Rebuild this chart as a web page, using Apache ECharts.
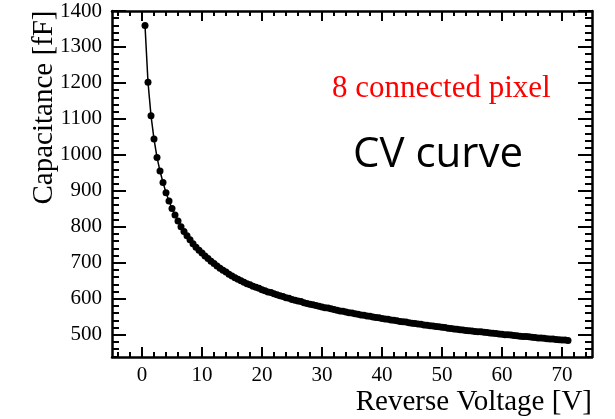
<!DOCTYPE html>
<html>
<head>
<meta charset="utf-8">
<script src="https://cdn.jsdelivr.net/npm/echarts@6/dist/echarts.min.js"></script>
<style>html,body{margin:0;padding:0;background:#fff}#c{width:615px;height:419px}</style>
</head>
<body>
<div id="c"></div>
<script>
var voltage = [0.5,1,1.5,2,2.5,3,3.5,4,4.5,5,5.5,6,6.5,7,7.5,8,8.5,9,9.5,10,
10.5,11,11.5,12,12.5,13,13.5,14,14.5,15,15.5,16,16.5,17,17.5,18,18.5,19,19.5,20,
20.5,21,21.5,22,22.5,23,23.5,24,24.5,25,25.5,26,26.5,27,27.5,28,28.5,29,29.5,30,
30.5,31,31.5,32,32.5,33,33.5,34,34.5,35,35.5,36,36.5,37,37.5,38,38.5,39,39.5,40,
40.5,41,41.5,42,42.5,43,43.5,44,44.5,45,45.5,46,46.5,47,47.5,48,48.5,49,49.5,50,
50.5,51,51.5,52,52.5,53,53.5,54,54.5,55,55.5,56,56.5,57,57.5,58,58.5,59,59.5,60,
60.5,61,61.5,62,62.5,63,63.5,64,64.5,65,65.5,66,66.5,67,67.5,68,68.5,69,69.5,70,
70.5,71];
var capacitance = [1360,1202,1109,1044,993,955,923,895,872,851,833,816,800,787,775,764,753,743,735,727,
719,712,704,698,691,685,679,674,668,663,658,654,650,646,642,639,635,632,629,625,
622,619,617,614,611,608,606,603,601,598,596,594,592,589,587,585,583,581,579,577,
575,574,572,570,568,566,565,563,561,560,558,557,555,554,552,551,549,548,547,545,
544,543,541,540,539,537,536,535,533,532,531,530,529,527,526,525,524,523,522,521,
520,518,517,516,515,514,513,512,511,510,509,508,508,507,506,505,504,503,502,501,
500,500,499,498,497,496,495,495,494,493,492,491,491,490,489,488,488,487,486,485,
485,484];
var xTicks = [0,10,20,30,40,50,60,70];
var yTicks = [500,600,700,800,900,1000,1100,1200,1300,1400];
var xMinor = [-4,-2,2,4,6,8,12,14,16,18,22,24,26,28,32,34,36,38,42,44,46,48,52,54,56,58,62,64,66,68,72,74];
var yMinor = [440,460,480,520,540,560,580,620,640,660,680,720,740,760,780,820,840,860,880,920,940,960,980,1020,1040,1060,1080,1120,1140,1160,1180,1220,1240,1260,1280,1320,1340,1360,1380];
var xTitle = 'Reverse Voltage [V]';
var yTitle = 'Capacitance [fF]';

var points = voltage.map(function (v, i) { return [v, capacitance[i]]; });
var serif = '"Liberation Serif","DejaVu Serif",serif';
var lineW = 2.5;
var plain = function (v) { return String(v); };

function xAx(pos, ticks, len, main) {
  return {
    type: 'value', position: pos, min: -5, max: 75,
    axisLine: { show: main, onZero: false, lineStyle: { color: '#000', width: lineW } },
    axisTick: { show: true, inside: true, length: len, customValues: ticks, lineStyle: { color: '#000', width: 2 } },
    axisLabel: { show: main && pos === 'bottom', customValues: xTicks, formatter: plain, margin: 8, color: '#000', fontFamily: serif, fontSize: 21 },
    splitLine: { show: false },
    name: (main && pos === 'bottom') ? xTitle : '',
    nameLocation: 'end', nameGap: 0,
    nameTextStyle: { align: 'right', verticalAlign: 'top', padding: [31, 0, 0, 0], color: '#000', fontFamily: serif, fontSize: 29 }
  };
}
function yAx(pos, ticks, len, main) {
  return {
    type: 'value', position: pos, min: 438, max: 1400,
    axisLine: { show: main, onZero: false, lineStyle: { color: '#000', width: lineW } },
    axisTick: { show: true, inside: true, length: len, customValues: ticks, lineStyle: { color: '#000', width: 2 } },
    axisLabel: { show: main && pos === 'left', customValues: yTicks, formatter: plain, margin: 10, color: '#000', fontFamily: serif, fontSize: 21 },
    splitLine: { show: false }
  };
}

var chart = echarts.init(document.getElementById('c'), null, { renderer: 'canvas' });
chart.setOption({
  animation: false,
  backgroundColor: '#fff',
  grid: { left: 112, top: 11, width: 480, height: 346, containLabel: false },
  xAxis: [
    xAx('bottom', xTicks, 10, true),
    xAx('bottom', xMinor, 5, false),
    xAx('top', xTicks, 10, true),
    xAx('top', xMinor, 5, false)
  ],
  yAxis: [
    yAx('left', yTicks, 14, true),
    yAx('left', yMinor, 7, false),
    yAx('right', yTicks, 14, true),
    yAx('right', yMinor, 7, false)
  ],
  series: [{
    type: 'line',
    xAxisIndex: 0, yAxisIndex: 0,
    data: points,
    symbol: 'circle', symbolSize: 7, showSymbol: true,
    itemStyle: { color: '#000' },
    lineStyle: { color: '#000', width: 1.5 },
    emphasis: { disabled: true }
  }],
  graphic: [
    { type: 'text', x: 44, y: 107.5, rotation: Math.PI / 2,
      style: { text: yTitle, fill: '#000', font: '29px ' + serif, align: 'center', verticalAlign: 'middle' } },
    { type: 'text', x: 332, y: 89,
      style: { text: '8 connected pixel', fill: '#ff0000', font: '31px ' + serif, align: 'left', verticalAlign: 'middle' } },
    { type: 'text', x: 353, y: 155,
      style: { text: 'CV curve', fill: '#000', font: '42px "Open Sans", "Noto Sans", sans-serif', align: 'left', verticalAlign: 'middle' } }
  ]
});
</script>
</body>
</html>
